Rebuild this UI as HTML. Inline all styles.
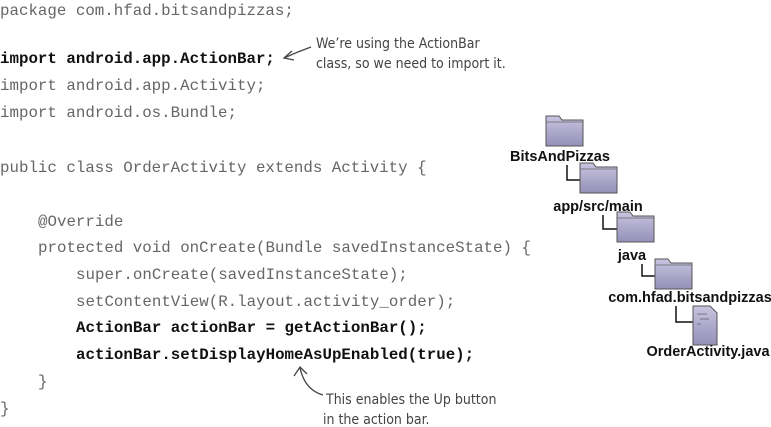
<!DOCTYPE html>
<html><head><meta charset="utf-8"><style>
html,body{margin:0;padding:0;background:#fff;}
svg{display:block}
.c{font-family:"Liberation Mono",monospace;font-size:15.8px;fill:#666;}
.b{font-weight:bold;fill:#111;}
.h{font-family:"DejaVu Sans Condensed","DejaVu Sans",sans-serif;font-size:14px;fill:#444;}
.t{font-family:"Liberation Sans",sans-serif;font-weight:bold;font-size:14.5px;fill:#111;text-anchor:middle;}
</style></head><body>
<svg width="771" height="427" viewBox="0 0 771 427" xmlns="http://www.w3.org/2000/svg">
<defs>
<linearGradient id="g" x1="0" y1="0" x2="0" y2="1"><stop offset="0" stop-color="#c8c4e0"/><stop offset="1" stop-color="#9490b8"/></linearGradient>
<g id="f"><path d="M0,0 h13 l3,4 h21 v26 h-37 z" fill="url(#g)" stroke="#555" stroke-width="1"/><path d="M0,6 h37" stroke="#666" stroke-width="0.8"/></g>
</defs>
<text class="c" x="0" y="15">package com.hfad.bitsandpizzas;</text>
<text class="c b" x="0" y="63">import android.app.ActionBar;</text>
<text class="c" x="0" y="90">import android.app.Activity;</text>
<text class="c" x="0" y="117">import android.os.Bundle;</text>
<text class="c" x="0" y="172">public class OrderActivity extends Activity {</text>
<text class="c" x="38" y="226">@Override</text>
<text class="c" x="38" y="252">protected void onCreate(Bundle savedInstanceState) {</text>
<text class="c" x="76" y="279">super.onCreate(savedInstanceState);</text>
<text class="c" x="76" y="306">setContentView(R.layout.activity_order);</text>
<text class="c b" x="76" y="332">ActionBar actionBar = getActionBar();</text>
<text class="c b" x="76" y="359">actionBar.setDisplayHomeAsUpEnabled(true);</text>
<text class="c" x="38" y="386">}</text>
<text class="c" x="0" y="413">}</text>

<path d="M311,47 Q297,52 284,58" stroke="#444" stroke-width="1.3" fill="none"/>
<path d="M292,51 L284,58 L294,60" stroke="#444" stroke-width="1.3" fill="none"/>
<text class="h" x="316" y="48">We’re using the ActionBar</text>
<text class="h" x="316" y="68">class, so we need to import it.</text>

<path d="M323,395 Q305,390 300,368" stroke="#444" stroke-width="1.3" fill="none"/>
<path d="M294,376 L300,367 L307,374" stroke="#444" stroke-width="1.3" fill="none"/>
<text class="h" x="326" y="404">This enables the Up button</text>
<text class="h" x="323" y="424">in the action bar.</text>

<use href="#f" x="546" y="116"/>
<text class="t" x="560" y="161">BitsAndPizzas</text>
<path d="M567,165 V180 H580" stroke="#111" stroke-width="1.5" fill="none"/>
<use href="#f" x="580" y="163"/>
<text class="t" x="598" y="211">app/src/main</text>
<path d="M603,215 V229 H617" stroke="#111" stroke-width="1.5" fill="none"/>
<use href="#f" x="617" y="212"/>
<text class="t" x="632" y="260">java</text>
<path d="M642,264 V276 H655" stroke="#111" stroke-width="1.5" fill="none"/>
<use href="#f" x="655" y="259"/>
<text class="t" x="690" y="302">com.hfad.bitsandpizzas</text>
<path d="M676,306 V322 H693" stroke="#111" stroke-width="1.5" fill="none"/>
<path d="M693,306 h17 l7,7 v32 h-24 z" fill="url(#g)" stroke="#555" stroke-width="1"/>
<path d="M697,314 h10 M700,319 h9 M697,324 h4" stroke="#333" stroke-width="0.6"/>
<text class="t" x="708" y="356">OrderActivity.java</text>
</svg>
</body></html>
